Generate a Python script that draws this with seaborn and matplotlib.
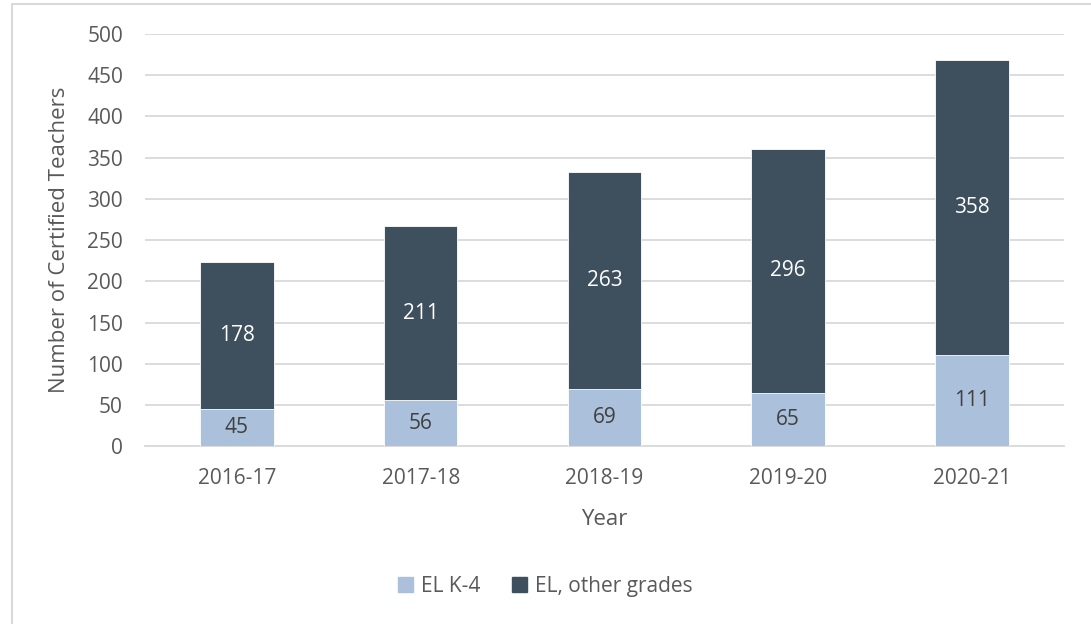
import matplotlib.pyplot as plt
import matplotlib.patches as mpatches
import seaborn as sns
import pandas as pd

years = ['2016-17', '2017-18', '2018-19', '2019-20', '2020-21']
el_k4 = [45, 56, 69, 65, 111]
el_other = [178, 211, 263, 296, 358]

light = '#ABC0DA'
dark = '#3E505E'
text_gray = '#595959'
grid_gray = '#D9D9D9'

df = pd.DataFrame({'year': years, 'k4': el_k4, 'other': el_other})
df['total'] = df['k4'] + df['other']

sns.set_style('white')
plt.rcParams['font.family'] = ['Open Sans', 'DejaVu Sans']

fig = plt.figure(figsize=(10.91, 6.24), dpi=100)
ax = fig.add_axes([0.133, 0.285, 0.842, 0.6605])

# stacked bars: draw totals first, then the lower segment on top
sns.barplot(df, x='year', y='total', color=dark, width=0.4, saturation=1,
            edgecolor='white', linewidth=0.6, ax=ax, zorder=3)
sns.barplot(df, x='year', y='k4', color=light, width=0.4, saturation=1,
            edgecolor='white', linewidth=0.6, ax=ax, zorder=3)

for i, (k4, other) in enumerate(zip(df['k4'], df['other'])):
    ax.text(i, k4 / 2, str(k4), ha='center', va='center', fontsize=15, color='#404040', zorder=4)
    ax.text(i, k4 + other / 2, str(other), ha='center', va='center', fontsize=15, color='white', zorder=4)

ax.set_ylim(0, 500)
ax.set_yticks(range(0, 501, 50))
ax.set_xlim(-0.5, 4.5)
ax.grid(True, axis='y', color=grid_gray, linewidth=1.3, zorder=0)
ax.set_axisbelow(True)
for side in ['left', 'right', 'top']:
    ax.spines[side].set_visible(False)
ax.spines['bottom'].set_color(grid_gray)
ax.spines['bottom'].set_linewidth(1.3)
ax.tick_params(axis='both', length=0, labelsize=15, colors=text_gray)
ax.tick_params(axis='y', pad=16)
ax.tick_params(axis='x', pad=16)

ax.set_xlabel('Year', fontsize=16, color=text_gray, labelpad=14)
ax.set_ylabel('Number of Certified Teachers', fontsize=16, color=text_gray, labelpad=12)

handles = [mpatches.Patch(color=light, label='EL K-4'),
           mpatches.Patch(color=dark, label='EL, other grades')]
leg = fig.legend(handles=handles, loc='center', bbox_to_anchor=(0.5, 0.06), ncol=2,
                 frameon=False, fontsize=15, handlelength=0.7, handleheight=0.7,
                 handletextpad=0.4, columnspacing=1.5)
for t in leg.get_texts():
    t.set_color(text_gray)

# outer chart border (only left and top edges visible in the crop)
fig.patches.append(mpatches.Rectangle((12 / 1091, -0.1), 2, 1.1 - 4 / 624, transform=fig.transFigure,
                                      fill=False, edgecolor='#D9D9D9', linewidth=1.5))

fig.savefig('out.png', dpi=100)
plt.close(fig)
